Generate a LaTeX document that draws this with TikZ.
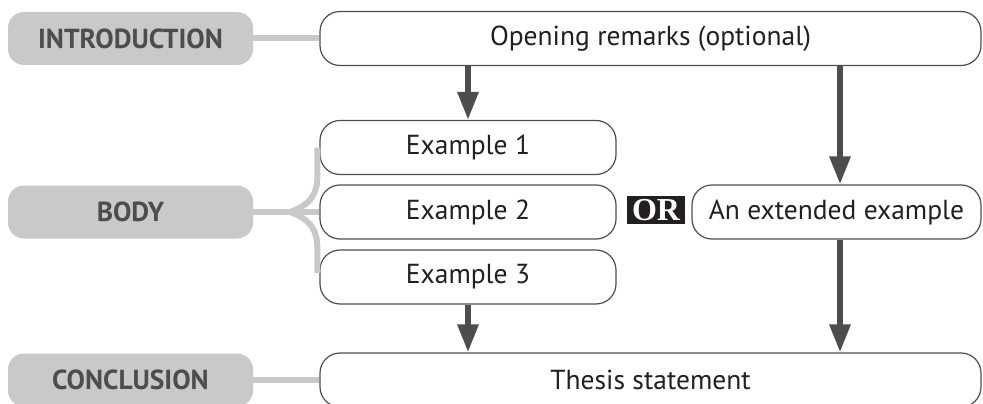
\documentclass[tikz,border=0pt]{standalone}
\usepackage{fontspec}
\setmainfont{PT Sans}
\newfontfamily\orfont{Liberation Serif}
\usetikzlibrary{arrows.meta,positioning}
\definecolor{pillgray}{HTML}{C8C9CA}
\definecolor{inkgray}{HTML}{4D4D4F}
\definecolor{inkblack}{HTML}{231F20}

\begin{document}
\begin{tikzpicture}[
    x=1pt, y=-1pt,
    pill/.style={fill=pillgray, rounded corners=16pt, minimum width=245pt,
                 minimum height=53pt, text=inkgray,
                 font=\fontsize{27.5}{31}\selectfont\bfseries},
    box/.style={draw=inkgray, line width=1.2pt, rounded corners=20pt,
                minimum height=54pt, text=inkblack,
                font=\fontsize{27.5}{31}\selectfont},
    arrow/.style={-{Triangle[length=28pt,width=20pt]}, line width=6pt, draw=inkgray},
    link/.style={line width=6pt, draw=pillgray}
]
\useasboundingbox (0,0) rectangle (983,404);

% --- left labels ---
\node[pill] (intro) at (130.5,38.5) {INTRODUCTION};
\node[pill] (body)  at (130.5,212)  {BODY};
\node[pill] (concl) at (130.5,380)  {CONCLUSION};

% --- boxes ---
\node[box, minimum width=661pt] (open)   at (650.5,38.5) {Opening remarks (optional)};
\node[box, minimum width=296pt] (ex1)    at (468,147.5)  {Example 1};
\node[box, minimum width=296pt] (ex2)    at (468,212)    {Example 2};
\node[box, minimum width=296pt] (ex3)    at (468,277)    {Example 3};
\node[box, minimum width=289pt] (ext)    at (836.5,212)  {An extended example};
\node[box, minimum width=661pt] (thesis) at (650.5,380)  {Thesis statement};

\node[fill=inkblack, text=white, minimum width=58pt, minimum height=28pt,
      inner sep=0pt, font=\orfont\fontsize{32}{32}\selectfont\bfseries]
      (or) at (656,210) {OR};

% --- links ---
\coordinate (fork) at (290,212);
\draw[link] (intro.east) -- (open.west);
\draw[link] (concl.east) -- (thesis.west);
\draw[link] (body.east) -- (ex2.west);
\draw[link] (fork) .. controls +(22,-8) and +(0,18) .. ([xshift=-2pt]ex1.south west) -- ([xshift=-2pt]ex1.west);
\draw[link] (fork) .. controls +(22,8) and +(0,-18) .. ([xshift=-2pt]ex3.north west) -- ([xshift=-2pt,yshift=4pt]ex3.west);

% --- arrows ---
\draw[arrow] (ex1.north |- open.south) -- (ex1.north);
\draw[arrow] (ex3.south) -- (ex3.south |- thesis.north);
\draw[arrow] ([xshift=3.5pt]ext.north |- open.south) -- ([xshift=3.5pt]ext.north);
\draw[arrow] ([xshift=3.5pt]ext.south) -- ([xshift=3.5pt]ext.south |- thesis.north);

\end{tikzpicture}
\end{document}
